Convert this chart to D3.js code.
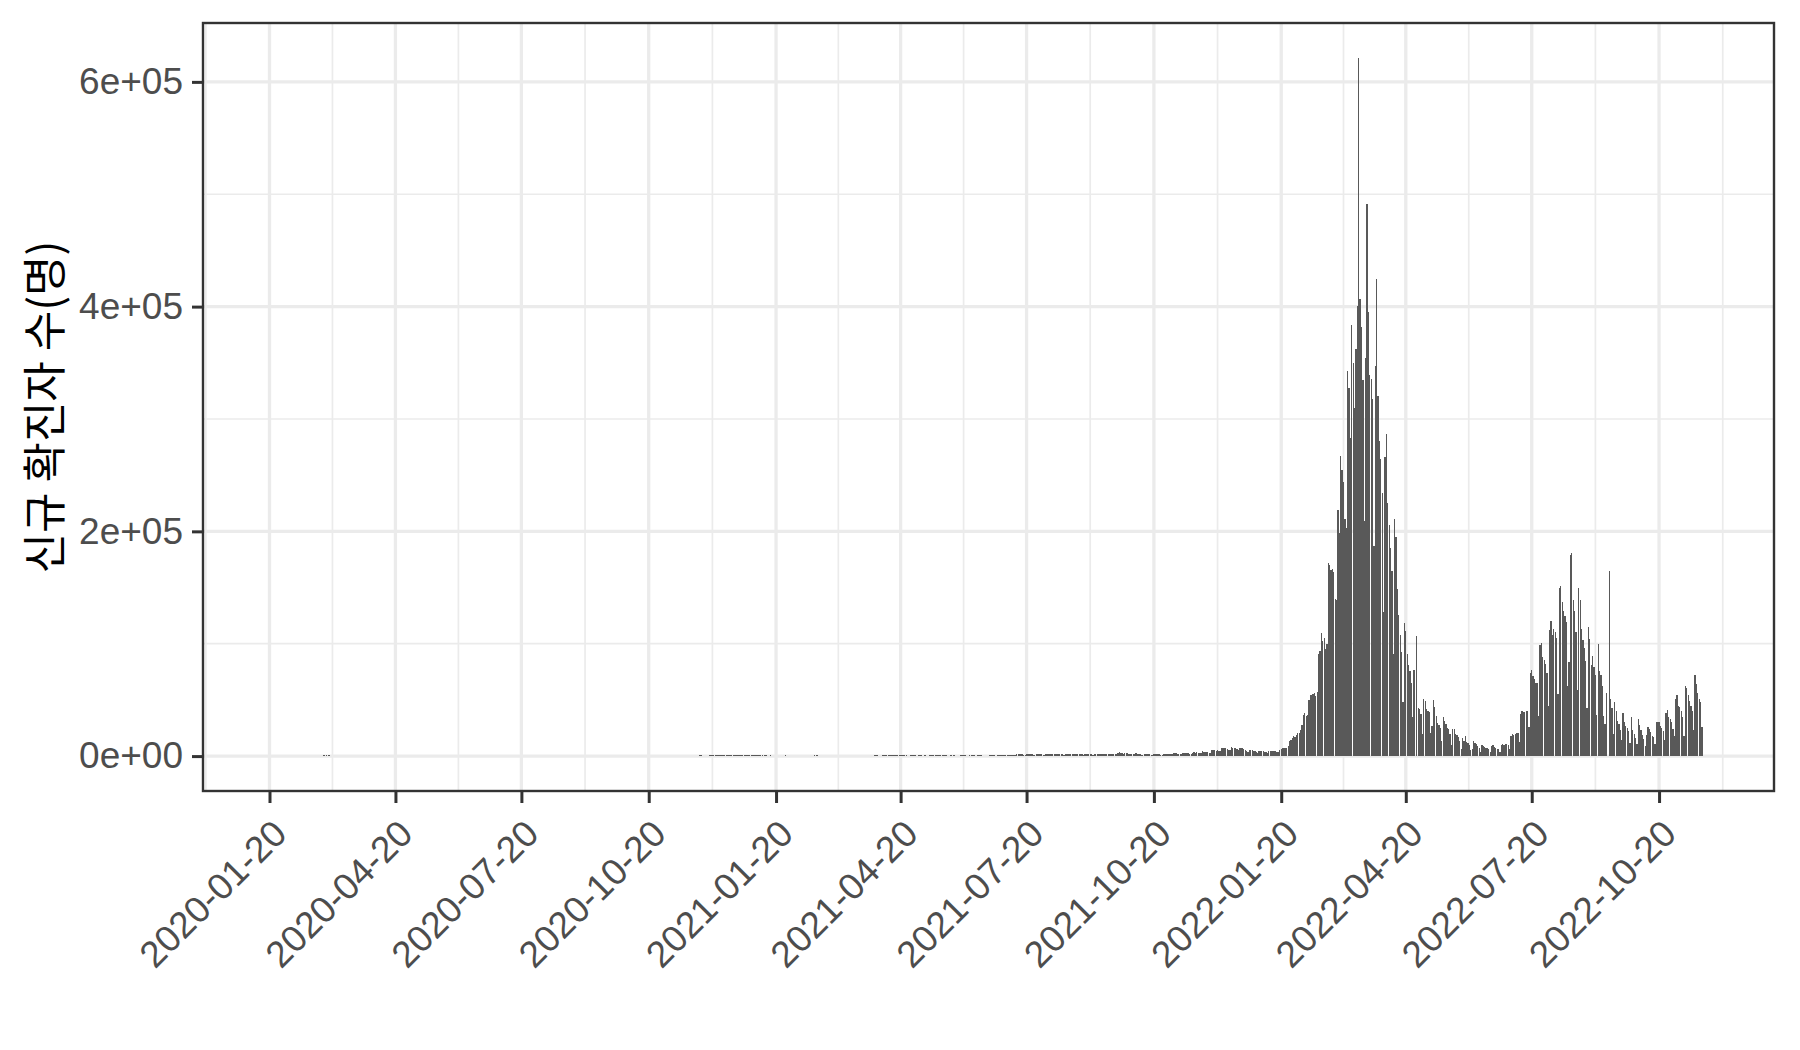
<!DOCTYPE html>
<html><head><meta charset="utf-8">
<script src="https://cdn.jsdelivr.net/npm/d3@7"></script>
<style>body{margin:0;background:#fff}</style></head>
<body><svg id="c" width="1800" height="1050"></svg>
<script>
// Daily new confirmed cases, grouped by month (first 2020 month starts on the 24th). null = no row for that day.
const firstDay = "2020-01-24";
const cases2020 = [
[1,0,1,1,0,0,2,5],
[1,3,0,1,3,4,1,0,3,0,1,0,0,0,0,1,1,1,20,53,100,229,169,231,144,284,505,571,813],
[586,476,600,516,438,518,483,367,248,131,242,114,110,107,76,74,84,93,152,87,147,98,64,76,100,104,91,146,105,78,125],
[101,89,86,94,81,47,47,53,39,27,30,32,25,27,27,22,22,18,8,13,9,11,8,6,10,10,10,14,9,4],
[9,6,13,8,3,2,4,12,18,34,35,27,26,29,27,19,13,15,13,32,12,20,23,25,16,19,40,79,58,39,27],
[35,38,49,39,39,51,57,38,38,50,45,56,49,34,37,34,43,59,49,67,48,17,46,51,28,39,51,62,42,43],
[51,54,63,63,61,48,44,50,50,45,35,44,62,33,39,60,39,39,26,45,26,63,59,41,113,58,25,28,48,18,36],
[31,30,23,33,43,20,43,36,28,34,54,56,56,103,166,279,197,246,297,288,324,332,397,266,280,320,441,371,323,299,248],
[235,267,195,198,168,167,119,136,156,155,176,136,121,109,106,113,153,126,110,82,70,82,110,125,114,61,95,50,38,113],
[77,63,75,64,73,114,69,114,54,72,58,98,102,84,110,47,73,91,76,58,91,121,155,77,61,119,88,103,125,114,127],
[124,97,75,118,125,145,89,143,126,100,146,143,191,205,208,223,230,313,343,363,386,330,271,349,382,583,569,504,450,438],
[451,511,540,629,583,631,615,594,686,682,689,950,1030,718,880,1078,1014,1064,1097,1097,926,869,1092,985,1241,1132,970,808,1046,1050,967]
];
const cases2021 = [
[1029,820,657,1020,714,838,869,674,641,665,451,537,562,524,513,580,520,389,386,404,400,346,431,392,437,349,559,497,469,458,355],
[305,336,467,451,370,393,372,289,303,444,504,403,362,344,326,343,621,621,561,448,416,332,357,440,396,406,355,415],
[355,344,444,424,398,416,418,446,470,465,488,470,490,459,382,363,469,445,452,456,415,346,428,430,494,458,482,382,447,447,506],
[551,557,543,473,473,478,668,700,671,677,614,587,542,731,698,673,658,532,549,731,735,797,785,644,499,512,769,775,661,627],
[606,488,541,676,574,525,701,564,463,511,635,715,681,610,681,619,528,654,646,561,666,585,530,516,516,707,629,587,533,480,430],
[459,677,681,695,744,556,485,454,602,611,556,565,452,399,545,540,545,507,482,429,357,395,645,610,634,668,614,501,595,762],
[826,794,743,711,746,1212,1275,1316,1378,1324,1100,1150,1615,1600,1536,1452,1454,1252,1278,1784,1842,1630,1629,1487,1318,1363,1896,1674,1710,1539,1442],
[1218,1202,1725,1776,1704,1823,1729,1492,1537,2221,1987,1990,1928,1817,1555,1372,1805,2152,2050,2052,1880,1626,1418,2155,1882,1840,1841,1793,1619,1372,2025],
[2024,1961,1709,1804,1490,1375,2050,2049,2080,1892,1865,1755,1433,1497,2080,2008,2087,1910,1604,1419,1729,1720,1715,2434,3273,2771,2383,2289,2885,2564],
[2486,2086,2248,1673,1575,2028,2427,2175,1953,1594,1297,1347,1584,1940,1682,1618,1420,1050,1073,1571,1441,1439,1508,1422,1266,1190,1952,2111,2124,2061,2104],
[1686,1589,2667,2482,2344,2248,2224,1758,1715,2425,2520,2368,2324,2419,2006,2125,3187,3292,3034,3206,3120,2827,2699,4116,3938,3901,3309,3925,3032,3032],
[5123,5266,5352,4944,5128,4325,4954,7175,7102,7022,6977,6689,5817,5567,7850,7622,7435,7314,6236,5318,7456,6916,6919,6233,5842,4207,3865,5409,5037,5035,4875]
];
const cases2022 = [
[4415,3833,3129,4443,4126,4444,4169,3998,3373,3005,4388,4542,4167,4538,4419,4194,3859,4071,5805,6603,6767,7009,7630,7513,8571,13012,14518,16096,17542,17079,18341],
[20270,20269,22907,27443,36362,38691,35286,36719,49567,54121,53926,54941,56431,53695,57177,90443,93135,109831,102211,104829,95362,99573,171452,170016,165890,166209,163566,139626],
[138993,219241,198803,266853,254327,243628,210716,202721,342446,327549,282987,383665,350190,309790,362338,400741,621328,407017,381454,334708,209169,353980,490881,395598,339514,335580,318130,187213,347554,424641,320743],
[280273,264171,234301,127892,266135,286294,224820,205333,185566,164481,90928,210755,195419,148443,125846,107916,93001,47743,118504,111319,90867,81058,75449,64725,34370,76787,null,107000,43000,42000],
[37766,20085,51131,49064,42296,40064,39600,20601,26714,49933,43925,35906,29581,27446,25434,13296,35117,31335,28130,25125,23956,19298,9975,23946,24475,20016,18816,16584,13358,6141,15797],
[13000,18000,12500,12000,9800,5000,6000,13000,12000,10600,8800,7400,3800,10000,9300,8400,7200,6800,6000,3530,9400,9800,8000,7200,6200,6300,3400,9900,10400,9600],
[10700,10400,10000,6200,18100,19300,18500,19300,20300,20400,12700,37400,40300,39200,38900,40300,40300,26300,73600,76400,71200,68600,65400,65400,35900,99300,100300,88400,85300,82000,73600],
[44700,111800,119900,107900,112900,110000,105000,55300,149900,151800,137200,128700,124600,119600,62100,84100,178600,180800,138800,128700,110000,59000,150000,139300,113400,103000,96000,85000,43000,115000,104000],
[81000,89000,79000,72000,37000,99800,76000,72000,62000,36000,29000,56000,null,165000,51000,43000,20000,48000,40000,31000,29000,23000,14000,38000,30000,27000,25000,22000,12000,35000],
[23000,20000,16000,11000,33000,28000,23000,19000,15000,9000,19000,26000,24000,21000,18000,17000,11000,30000,30000,30000,27000,25000,22000,14000,38000,41000,35000,33000,30000,24000,18000],
[51000,54000,45000,44000,40000,35000,18000,62000,61000,54000,49000,45000,40000,23000,72000,64000,56000,51000,48000,26000]
];
const xTickLabels = ["2020-01-20","2020-04-20","2020-07-20","2020-10-20","2021-01-20","2021-04-20",
  "2021-07-20","2021-10-20","2022-01-20","2022-04-20","2022-07-20","2022-10-20"];
const yTickValues = [0, 200000, 400000, 600000];
const yTickLabels = ["0e+00", "2e+05", "4e+05", "6e+05"];
const yTitle = "신규 확진자 수(명)";

const parse = d3.utcParse("%Y-%m-%d");
const start = parse(firstDay);
const data = [];
[[2020, cases2020], [2021, cases2021], [2022, cases2022]].forEach(([yr, months]) => {
  months.forEach((arr, m) => {
    const d0 = (yr === 2020 && m === 0) ? start : new Date(Date.UTC(yr, m, 1));
    const mEnd = new Date(Date.UTC(yr, m + 1, 1));
    arr.forEach((v, i) => {
      const d = d3.utcDay.offset(d0, i);
      if (d < mEnd) data.push({date: d, v: v});
    });
  });
});
const valid = data.filter(d => d.v !== null);

const W = 1800, H = 1050;
const P = {l: 203, r: 1774, t: 23, b: 791};
const DAY = 864e5, half = 0.45 * DAY;
const x0 = +data[0].date - half, x1 = +data[data.length - 1].date + half;
const xp = (x1 - x0) * 0.05;
const x = d3.scaleUtc().domain([new Date(x0 - xp), new Date(x1 + xp)]).range([P.l, P.r]);
const yMax = d3.max(valid, d => d.v), yp = yMax * 0.05;
const y = d3.scaleLinear().domain([-yp, yMax + yp]).range([P.b, P.t]);

const svg = d3.select("#c");
svg.append("rect").attr("width", W).attr("height", H).attr("fill", "#fff");
svg.append("defs").append("clipPath").attr("id", "pc")
  .append("rect").attr("x", P.l).attr("y", P.t).attr("width", P.r - P.l).attr("height", P.b - P.t);
const g = svg.append("g").attr("clip-path", "url(#pc)");

// grid
const majorDates = xTickLabels.map(parse);
const minorDates = [];
const before = d3.utcMonth.offset(majorDates[0], -3), after = d3.utcMonth.offset(majorDates[majorDates.length - 1], 3);
const all = [before, ...majorDates, after];
for (let i = 0; i < all.length - 1; i++) minorDates.push(new Date((+all[i] + +all[i + 1]) / 2));
const minorY = [100000, 300000, 500000];
g.selectAll(".mnx").data(minorDates).join("line")
  .attr("x1", d => x(d)).attr("x2", d => x(d)).attr("y1", P.t).attr("y2", P.b)
  .attr("stroke", "#EBEBEB").attr("stroke-width", 1.7);
g.selectAll(".mny").data(minorY).join("line")
  .attr("x1", P.l).attr("x2", P.r).attr("y1", d => y(d)).attr("y2", d => y(d))
  .attr("stroke", "#EBEBEB").attr("stroke-width", 1.7);
g.selectAll(".mjx").data(majorDates).join("line")
  .attr("x1", d => x(d)).attr("x2", d => x(d)).attr("y1", P.t).attr("y2", P.b)
  .attr("stroke", "#EBEBEB").attr("stroke-width", 3.3);
g.selectAll(".mjy").data(yTickValues).join("line")
  .attr("x1", P.l).attr("x2", P.r).attr("y1", d => y(d)).attr("y2", d => y(d))
  .attr("stroke", "#EBEBEB").attr("stroke-width", 3.3);

// bars
g.append("g").attr("shape-rendering", "crispEdges").selectAll("rect").data(valid).join("rect")
  .attr("x", d => x(+d.date - half))
  .attr("width", d => x(+d.date + half) - x(+d.date - half))
  .attr("y", d => Math.min(y(d.v), y(0)))
  .attr("height", d => Math.abs(y(0) - y(d.v)))
  .attr("fill", "#595959");

// border
svg.append("rect").attr("x", P.l).attr("y", P.t).attr("width", P.r - P.l).attr("height", P.b - P.t)
  .attr("fill", "none").attr("stroke", "#333333").attr("stroke-width", 2.4);

const font = "'Liberation Sans', Arial, sans-serif";
// y axis
const ya = svg.append("g").attr("transform", `translate(${P.l},0)`)
  .call(d3.axisLeft(y).tickValues(yTickValues).tickFormat((d, i) => yTickLabels[i]).tickSize(11).tickPadding(9));
ya.select(".domain").remove();
ya.selectAll("line").attr("stroke", "#333333").attr("stroke-width", 3);
ya.selectAll("text").attr("fill", "#4D4D4D").style("font-family", font).style("font-size", "37px");

// x axis
const xa = svg.append("g").attr("transform", `translate(0,${P.b})`)
  .call(d3.axisBottom(x).tickValues(majorDates).tickFormat((d, i) => xTickLabels[i]).tickSize(12));
xa.select(".domain").remove();
xa.selectAll("line").attr("stroke", "#333333").attr("stroke-width", 3);
xa.selectAll("text").attr("fill", "#4D4D4D").style("font-family", font).style("font-size", "37px")
  .attr("x", 0).attr("y", 0).attr("dy", "0.72em").attr("text-anchor", "end")
  .attr("transform", "translate(0,26) rotate(-45)");

// y title
svg.append("text").attr("transform", `translate(45,${(P.t + P.b) / 2}) rotate(-90)`)
  .attr("text-anchor", "middle").attr("dy", "0.36em")
  .style("font-family", "'Noto Sans CJK KR', sans-serif").style("font-size", "44px").attr("fill", "#000")
  .text(yTitle);
</script>
</body></html>
